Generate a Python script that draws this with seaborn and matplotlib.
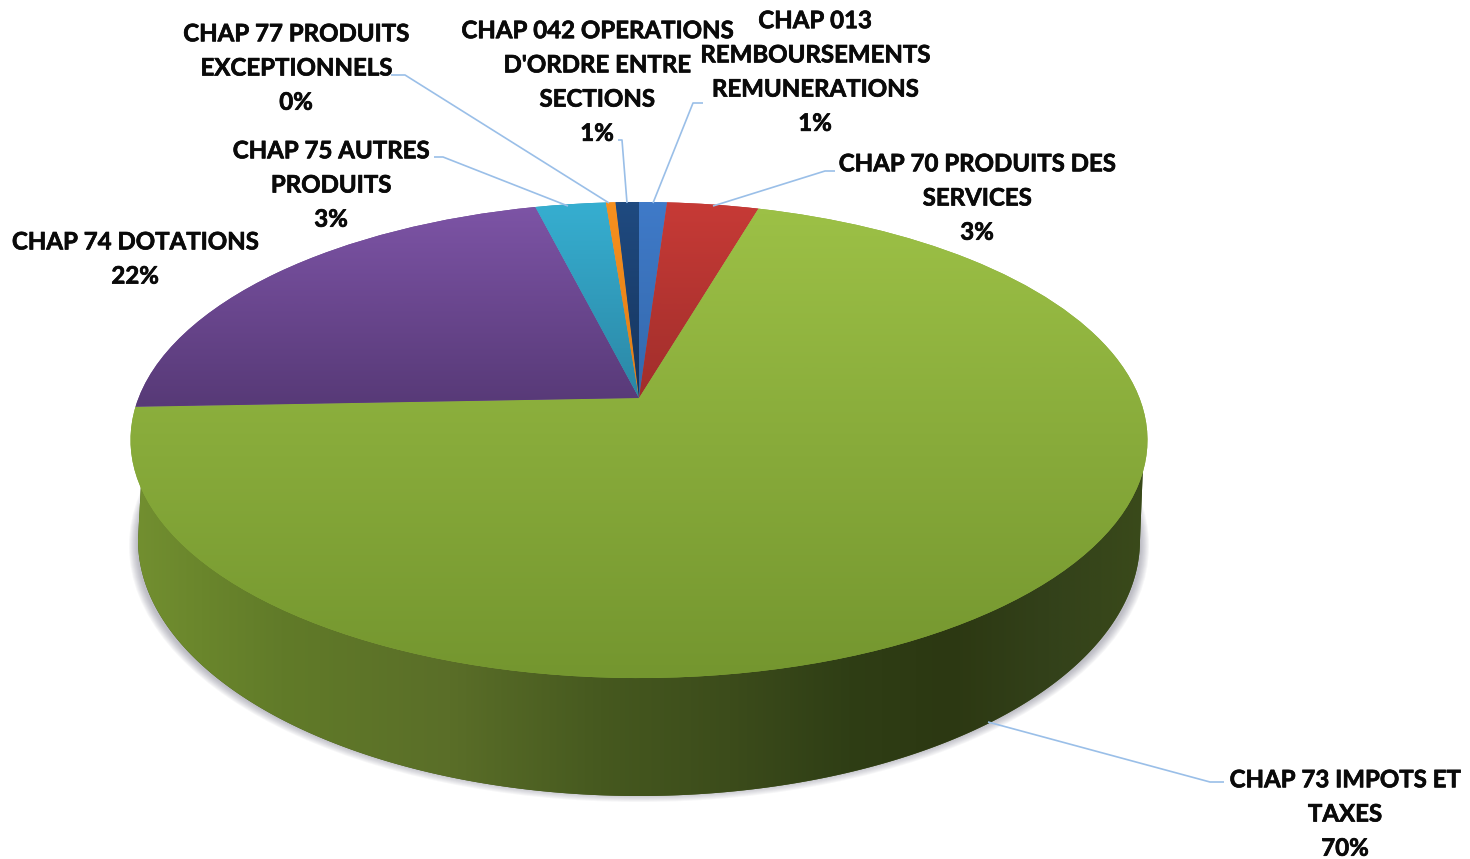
import numpy as np
import matplotlib
matplotlib.use("Agg")
import matplotlib.pyplot as plt
import matplotlib.transforms as mtransforms
import matplotlib.patheffects as pe
from matplotlib.colors import LinearSegmentedColormap, to_rgb
from matplotlib.patches import Polygon, Ellipse
import seaborn as sns

# ---- data (clockwise from the top of the pie) ----
chapters = ["CHAP 013\nREMBOURSEMENTS\nREMUNERATIONS", "CHAP 70 PRODUITS DES\nSERVICES",
            "CHAP 73 IMPOTS ET\nTAXES", "CHAP 74 DOTATIONS", "CHAP 75 AUTRES\nPRODUITS",
            "CHAP 77 PRODUITS\nEXCEPTIONNELS", "CHAP 042 OPERATIONS\nD'ORDRE ENTRE\nSECTIONS"]
shares = [1.05, 3.45, 69.9, 21.7, 2.66, 0.36, 0.88]
top_colors = ["#3f7ac8", "#c63a36", "#9cc046", "#7d54a6", "#36aed0", "#f7901e", "#1f4a80"]
low_colors = ["#3468ab", "#a02e2b", "#74962f", "#583a78", "#2b86a4", "#e07d18", "#16345c"]
label_xy = [(815, 71), (977, 197), (1345, 813), (135, 258), (331, 184), (296, 67), (597, 81)]
leaders = [[(703, 103), (693, 103), (653, 203)], [(835, 171), (825, 171), (713, 206)],
           [(1224, 782), (1210, 782), (988, 722)], None,
           [(434, 157), (443, 157), (568, 206)], [(391, 75), (405, 75), (609, 203)],
           [(618, 140), (622, 140), (627, 203)]]
wall_stops = [(135, "#728f30"), (200, "#6a862c"), (280, "#617b29"), (450, "#5a6e28"), (600, "#46591f"),
              (730, "#3c4c1b"), (850, "#2f3e15"), (950, "#2c3812"), (1050, "#33411a"), (1145, "#3a4a1a")]

# ---- geometry of the tilted pie, in figure pixels ----
CX, CY, K, C, A = 639.0, 398.0, 0.1765, 230.6, 500.5
BASE_Y, BASE_A, BASE_B = 540.0, 501.0, 256.0


class Perspective(mtransforms.Transform):
    input_dims = output_dims = 2
    is_separable = False
    has_inverse = False

    def transform_non_affine(self, values):
        x, y = np.asarray(values).T
        w = 1 + K * y
        return np.column_stack([CX + A * x / w, CY - C * y / w])


sns.set_theme(style="white")
plt.rcParams["font.family"] = ["Lato", "DejaVu Sans"]

fig = plt.figure(figsize=(14.7, 8.59), dpi=100, facecolor="white")
ax = fig.add_axes([0, 0, 1, 1])
wedges, _ = ax.pie(shares, startangle=90, counterclock=False, colors=top_colors, radius=1)
ax.set_aspect("auto")
ax.set_xlim(0, 1470)
ax.set_ylim(859, 0)
ax.axis("off")
persp = Perspective() + ax.transData

# soft shadow under the drum
for d in np.arange(9, 0, -1):
    ax.add_patch(Ellipse((639, 546), 2 * (BASE_A + d), 2 * (BASE_B - 9 + d),
                         fc="#5c5c72", ec="none", alpha=0.05, zorder=1))

# side wall
t = np.radians(np.linspace(180, 360, 300))
wall_pts = np.column_stack([CX + BASE_A * np.cos(t), BASE_Y - BASE_B * np.sin(t)])
wall_pts = np.vstack([wall_pts, [(1143, 466), (141, 484)]])
wall = Polygon(wall_pts, closed=True, fc="#46591f", ec="none", zorder=2)
ax.add_patch(wall)
x0, x1 = wall_stops[0][0], wall_stops[-1][0]
wall_cmap = LinearSegmentedColormap.from_list(
    "wall", [((x - x0) / (x1 - x0), c) for x, c in wall_stops])
im = ax.imshow(np.linspace(0, 1, 512)[None, :], extent=(x0, x1, 810, 440), aspect="auto",
               cmap=wall_cmap, zorder=2.5, interpolation="bilinear")
im.set_clip_path(wall)

# top face
for i, w in enumerate(wedges):
    w.set_transform(persp)
    w.set_zorder(3)
    w.set_edgecolor("none")
    ytop, ybot = (212, 678) if i == 2 else (205, 402)
    cmap = LinearSegmentedColormap.from_list(f"f{i}", [top_colors[i], low_colors[i]])
    ys = np.linspace(190, ybot + 15, 512)
    grad = np.clip((ys - ytop) / (ybot - ytop), 0, 1)[:, None]
    img = ax.imshow(grad, extent=(100, 1180, ybot + 15, 190), aspect="auto", vmin=0, vmax=1,
                    cmap=cmap, zorder=3.5 + i * 0.01, interpolation="bilinear")
    img.set_clip_path(w)
    w.set_facecolor(tuple((np.array(to_rgb(top_colors[i])) + np.array(to_rgb(low_colors[i]))) / 2))

ax.set_xlim(0, 1470)
ax.set_ylim(859, 0)

# leader lines
for pts in leaders:
    if pts is not None:
        xs, ys = zip(*pts)
        ax.plot(xs, ys, color="#9abfe8", lw=1.2, zorder=5, solid_capstyle="butt")

# labels
for name, share, (x, y) in zip(chapters, shares, label_xy):
    ax.text(x, y + 1, f"{name}\n{share:.0f}%", ha="center", va="center", fontsize=17.3,
            fontweight="bold", color="#0a0a0a", linespacing=1.59, zorder=6,
            path_effects=[pe.withStroke(linewidth=0.5, foreground="#0a0a0a")])

fig.savefig("out.png", dpi=100, facecolor="white")
